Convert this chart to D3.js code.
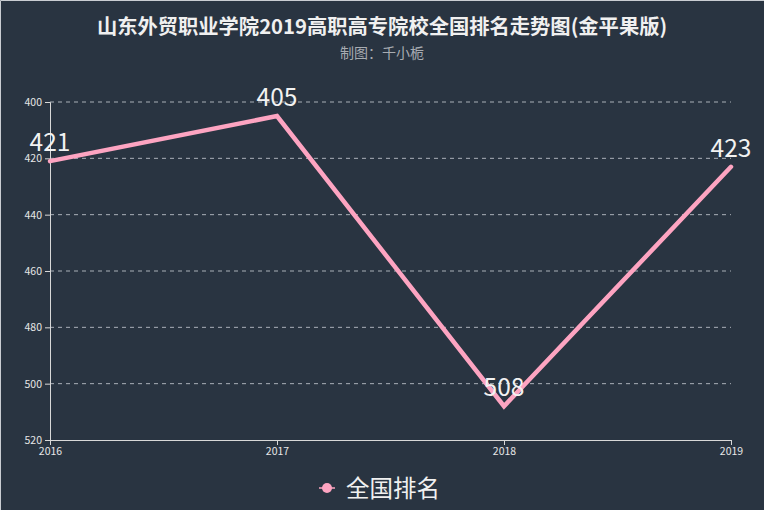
<!DOCTYPE html>
<html><head><meta charset="utf-8">
<script src="https://cdn.jsdelivr.net/npm/d3@7"></script>
<style>
html,body{margin:0;padding:0;background:#293441;}
svg{display:block;}
</style></head>
<body>
<svg id="chart" width="764" height="510"></svg>
<script>
const titleText = "山东外贸职业学院2019高职高专院校全国排名走势图(金平果版)";
const subtitleText = "制图：千小栀";
const seriesName = "全国排名";
const years = ["2016", "2017", "2018", "2019"];
const ranks = [421, 405, 508, 423];
const yTicks = [400, 420, 440, 460, 480, 500, 520];

const W = 764, H = 510;
const margin = {left: 50, right: 33, top: 102, bottom: 70};
const font = "'Noto Sans CJK SC','Noto Sans',sans-serif";
const lineColor = "#fda4c1";
const svg = d3.select("#chart");

svg.append("rect").attr("width", W).attr("height", H).attr("fill", "#293441");
svg.append("path").attr("d", `M0.5,${H}V0.5H${W}`).attr("stroke", "#c9cdd2").attr("fill", "none");

const x = d3.scalePoint().domain(years).range([margin.left, W - margin.right]);
const y = d3.scaleLinear().domain([400, 520]).range([margin.top, H - margin.bottom]);

// title
svg.append("text").attr("x", 382).attr("y", 34).attr("text-anchor", "middle")
  .attr("font-family", font).attr("font-weight", "bold").attr("font-size", 20.3)
  .attr("fill", "#f0f0f0").text(titleText);
svg.append("text").attr("x", 382).attr("y", 58).attr("text-anchor", "middle")
  .attr("font-family", font).attr("font-size", 14)
  .attr("fill", "#a8acb2").text(subtitleText);

// grid
const grid = svg.append("g");
grid.selectAll("line").data(yTicks.filter(t => t !== 520)).join("line")
  .attr("x1", margin.left).attr("x2", W - margin.right)
  .attr("y1", d => y(d)).attr("y2", d => y(d))
  .attr("stroke", "#aab0b8").attr("stroke-dasharray", "4,4").attr("stroke-width", 1);

// y axis
const yAxis = svg.append("g").attr("transform", `translate(${margin.left},0)`)
  .call(d3.axisLeft(y).tickValues(yTicks).tickSize(5).tickPadding(3));
yAxis.selectAll("text").attr("font-family", font).attr("font-size", 10.5).attr("fill", "#e6e6e6");
yAxis.selectAll("line,path").attr("stroke", "#d8d8d8");

// x axis
const xAxis = svg.append("g").attr("transform", `translate(0,${H - margin.bottom})`)
  .call(d3.axisBottom(x).tickSize(5).tickPadding(3).tickSizeOuter(0));
xAxis.selectAll("text").attr("font-family", font).attr("font-size", 10.5).attr("fill", "#e6e6e6");
xAxis.selectAll("line,path").attr("stroke", "#d8d8d8");

// line
const data = years.map((yr, i) => ({yr, v: ranks[i]}));
svg.append("path").datum(data)
  .attr("d", d3.line().x(d => x(d.yr)).y(d => y(d.v)))
  .attr("fill", "none").attr("stroke", lineColor).attr("stroke-width", 4.5)
  .attr("stroke-linejoin", "miter").attr("stroke-linecap", "round");

// labels
svg.append("g").selectAll("text").data(data).join("text")
  .attr("x", d => x(d.yr)).attr("y", d => y(d.v) - 10)
  .attr("text-anchor", "middle").attr("font-family", font).attr("font-size", 24.5)
  .attr("fill", "#f2f2f2").text(d => d.v);

// legend
const lg = svg.append("g").attr("transform", "translate(327,488)");
lg.append("line").attr("x1", -8).attr("x2", 8).attr("stroke", lineColor).attr("stroke-width", 1.5);
lg.append("circle").attr("r", 5).attr("fill", lineColor);
lg.append("text").attr("x", 19).attr("y", 8.5).attr("font-family", font).attr("font-size", 23.5)
  .attr("fill", "#f0f0f0").text(seriesName);
</script>
</body></html>
